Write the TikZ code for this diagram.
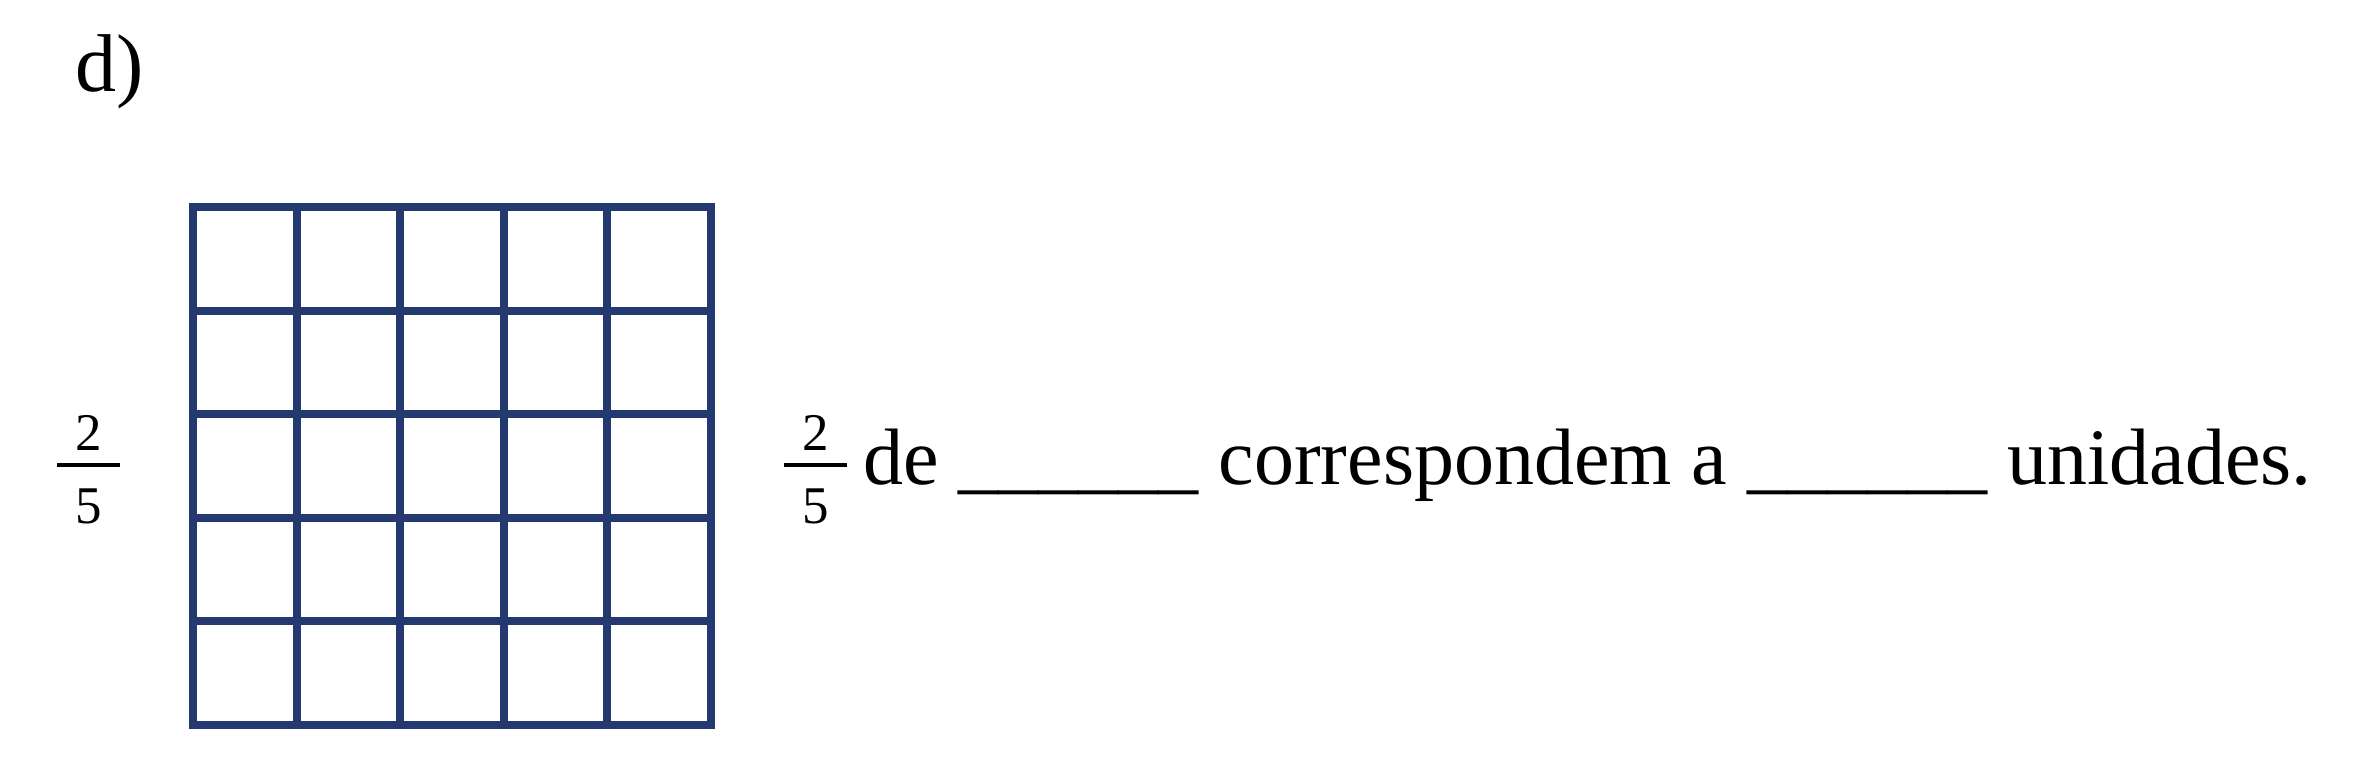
\documentclass[tikz,border=0pt]{standalone}
\usepackage{fontspec}
\setmainfont{Liberation Serif}
\definecolor{gridblue}{RGB}{35,57,112}
\begin{document}
\begin{tikzpicture}[x=1pt,y=-1pt,
  gridline/.style={draw=gridblue,line width=8pt},
  bigtext/.style={inner sep=0pt,anchor=base west,font=\fontsize{80}{90}\selectfont},
  labeltext/.style={inner sep=0pt,anchor=base west,font=\fontsize{82}{90}\selectfont},
  digit/.style={inner sep=0pt,anchor=base,font=\fontsize{53}{60}\selectfont},
  fracbar/.style={draw=black,line width=4pt}]
\useasboundingbox (0,0) rectangle (2362,770);
% label
\node[labeltext] (lbl) at (75,92) {d)};
% left fraction
\node[digit] (ln) at (88.5,450) {2};
\node[digit] (ld) at (88.5,523) {5};
\coordinate (lb1) at (57,465);
\coordinate (lb2) at (120,465);
\draw[fracbar] (lb1) -- (lb2);
% grid
\foreach \i in {1,...,4} {
  \draw[gridline] (193+103.5*\i,207.5) -- (193+103.5*\i,724.7);
  \draw[gridline] (193,207.5+103.44*\i) -- (710.5,207.5+103.44*\i);
}
\draw[gridline] (193,207.5) rectangle (710.5,724.7);
% right fraction
\node[digit] (rn) at (815.5,450) {2};
\node[digit] (rd) at (815.5,523) {5};
\coordinate (rb1) at (784,465);
\coordinate (rb2) at (847,465);
\draw[fracbar] (rb1) -- (rb2);
% sentence
\node[bigtext] (sent) at (863,484) {de \_\_\_\_\_\_ correspondem a \_\_\_\_\_\_ unidades.};
\end{tikzpicture}
\end{document}
